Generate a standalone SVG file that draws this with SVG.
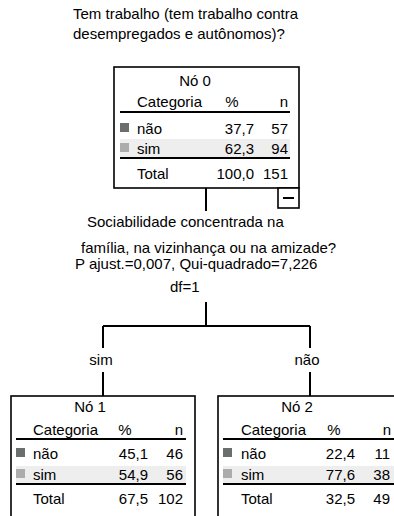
<svg xmlns="http://www.w3.org/2000/svg" width="394" height="516" viewBox="0 0 394 516">
<style>
text{font-family:"Liberation Sans",Arial,sans-serif;font-size:15px;fill:#000}
.m{text-anchor:middle}.e{text-anchor:end}
.box{fill:#fff;stroke:#000;stroke-width:1.6}
.rule{stroke:#000;stroke-width:2}
.shade{fill:#eeeeee}
.c1{fill:#6b6e6e}.c2{fill:#acacac}
.conn{stroke:#000;stroke-width:2;fill:none}
</style>
<rect width="394" height="516" fill="#fff"/>
<g id="title">
<text x="73" y="19">Tem trabalho (tem trabalho contra</text>
<text x="73" y="39">desempregados e autônomos)?</text>
</g>
<g id="connectors">
<path class="conn" d="M206 188V211M206 302V326M103 326H310M103 326V348M103 372V396M310 326V348M310 372V396"/>
</g>
<g id="split">
<text x="87" y="227">Sociabilidade concentrada na</text>
<text x="81" y="253">família, na vizinhança ou na amizade?</text>
<text x="75" y="269">P ajust.=0,007, Qui-quadrado=7,226</text>
<text x="170" y="292">df=1</text>
</g>
<g id="labels">
<text class="m" x="101" y="365">sim</text>
<text class="m" x="307" y="365">não</text>
</g>
<g id="node0">
<rect class="box" x="114" y="67" width="185" height="121"/>
<rect class="shade" x="120" y="139" width="170" height="18"/>
<text class="m" x="195" y="86">Nó 0</text>
<text x="137" y="107">Categoria</text>
<text class="m" x="232" y="107">%</text>
<text class="e" x="288" y="107">n</text>
<line class="rule" x1="120" y1="112" x2="290" y2="112"/>
<rect class="c1" x="120" y="123" width="9" height="9"/>
<text x="137" y="134">não</text>
<text class="e" x="254" y="134">37,7</text>
<text class="e" x="288" y="134">57</text>
<rect class="c2" x="120" y="143" width="9" height="9"/>
<text x="137" y="154">sim</text>
<text class="e" x="254" y="154">62,3</text>
<text class="e" x="288" y="154">94</text>
<line class="rule" x1="120" y1="158" x2="290" y2="158"/>
<text x="137" y="179">Total</text>
<text class="e" x="254" y="179">100,0</text>
<text class="e" x="288" y="179">151</text>
<rect class="box" x="278" y="188" width="21" height="20"/>
<line x1="283" y1="198" x2="294" y2="198" stroke="#000" stroke-width="2"/>
</g>
<g id="node1">
<rect class="box" x="11" y="396" width="184" height="125"/>
<rect class="shade" x="16" y="466" width="170" height="18"/>
<text class="m" x="90" y="412">Nó 1</text>
<text x="33" y="435">Categoria</text>
<text class="m" x="125" y="435">%</text>
<text class="e" x="183" y="435">n</text>
<line class="rule" x1="16" y1="439" x2="186" y2="439"/>
<rect class="c1" x="16" y="448" width="9" height="9"/>
<text x="33" y="459">não</text>
<text class="e" x="148" y="459">45,1</text>
<text class="e" x="183" y="459">46</text>
<rect class="c2" x="16" y="469" width="9" height="9"/>
<text x="33" y="480">sim</text>
<text class="e" x="148" y="480">54,9</text>
<text class="e" x="183" y="480">56</text>
<line class="rule" x1="16" y1="484" x2="186" y2="484"/>
<text x="33" y="504">Total</text>
<text class="e" x="148" y="504">67,5</text>
<text class="e" x="183" y="504">102</text>
</g>
<g id="node2">
<rect class="box" x="218" y="396" width="184" height="125"/>
<rect class="shade" x="223" y="466" width="171" height="18"/>
<text class="m" x="297" y="412">Nó 2</text>
<text x="241" y="435">Categoria</text>
<text class="m" x="334" y="435">%</text>
<text class="e" x="391" y="435">n</text>
<line class="rule" x1="223" y1="439" x2="394" y2="439"/>
<rect class="c1" x="223" y="448" width="9" height="9"/>
<text x="241" y="459">não</text>
<text class="e" x="355" y="459">22,4</text>
<text class="e" x="390" y="459">11</text>
<rect class="c2" x="223" y="469" width="9" height="9"/>
<text x="241" y="480">sim</text>
<text class="e" x="355" y="480">77,6</text>
<text class="e" x="390" y="480">38</text>
<line class="rule" x1="223" y1="484" x2="394" y2="484"/>
<text x="241" y="504">Total</text>
<text class="e" x="355" y="504">32,5</text>
<text class="e" x="390" y="504">49</text>
</g>
</svg>
